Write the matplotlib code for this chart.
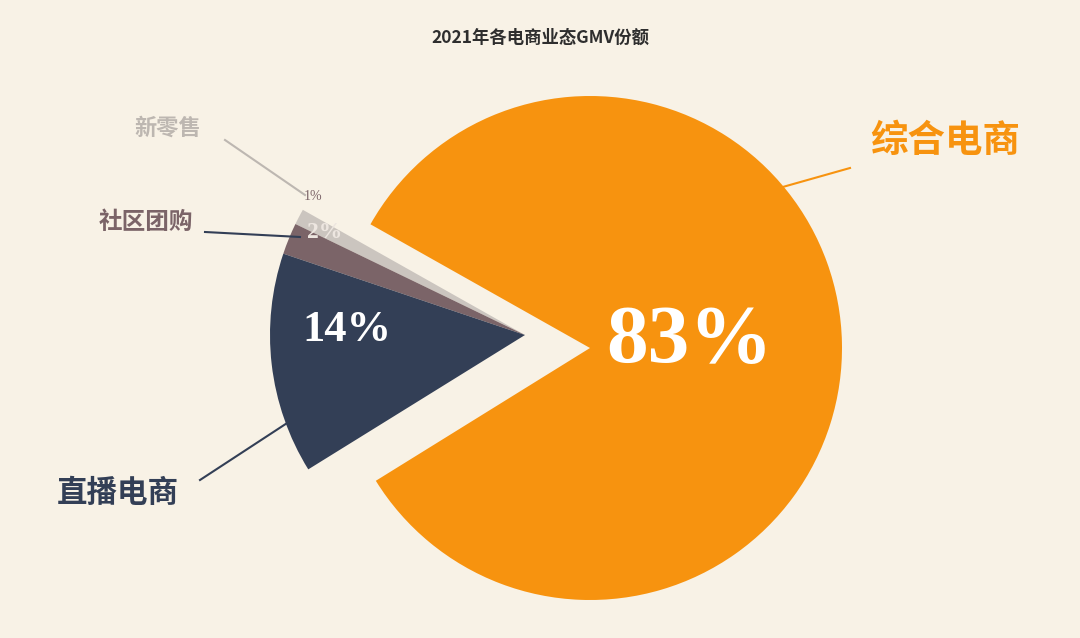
import matplotlib
matplotlib.use("Agg")
import matplotlib.pyplot as plt

plt.rcParams['font.family'] = ['Noto Sans CJK SC', 'DejaVu Sans']

categories = ['新零售', '社区团购', '直播电商', '综合电商']
values = [1, 2, 14, 83]
pct_labels = ['1%', '2%', '14%', '83%']
colors = ['#CBC5BF', '#7B6468', '#333F56', '#F7930F']
bg = '#F8F2E6'

fig = plt.figure(figsize=(10.8, 6.38), dpi=100, facecolor=bg)
ax = fig.add_axes([0, 0, 1, 1])
ax.set_facecolor(bg)
S = 255.0
def P(px, py):
    return ((px - 525) / S, (335 - py) / S)

wedges, _ = ax.pie(values, colors=colors, startangle=150.6, counterclock=True,
                   radius=1.0, wedgeprops=dict(linewidth=0), frame=True)
wedges[3].set_center(P(590, 348))
wedges[3].set_radius(252 / S)
ax.set_xlim(-525 / S, 555 / S)
ax.set_ylim(-303 / S, 335 / S)
ax.set_aspect('auto')
ax.axis('off')

serif = ['Liberation Serif', 'DejaVu Serif']
ax.text(*P(690, 342), pct_labels[3], color='white', fontsize=60, fontweight='bold', family=serif, ha='center', va='center')
ax.text(*P(347, 330), pct_labels[2], color='white', fontsize=32, fontweight='bold', family=serif, ha='center', va='center')
ax.text(*P(325, 233), pct_labels[1], color='#EDE6E0', fontsize=17, fontweight='bold', family=serif, ha='center', va='center')
ax.text(*P(313, 196), pct_labels[0], color='#7B6468', fontsize=10, family=serif, ha='center', va='center')

ax.text(*P(945, 140), categories[3], color='#F7930F', fontsize=27, fontweight='bold', ha='center', va='center')
ax.plot(*zip(P(850, 168), P(765, 192)), color='#F7930F', lw=1.5)
ax.text(*P(118, 493), categories[2], color='#333F56', fontsize=22, fontweight='bold', ha='center', va='center')
ax.plot(*zip(P(200, 480), P(330, 395)), color='#333F56', lw=1.5)
ax.text(*P(146, 222), categories[1], color='#7B6468', fontsize=17, fontweight='bold', ha='center', va='center')
ax.plot(*zip(P(205, 232), P(300, 237)), color='#333F56', lw=1.5)
ax.text(*P(168, 128), categories[0], color='#BDB7B1', fontsize=16, fontweight='bold', ha='center', va='center')
ax.plot(*zip(P(225, 140), P(305, 195)), color='#BDB7B1', lw=1.5)

ax.text(*P(540, 38), '2021年各电商业态GMV份额', color='#2E2E2E', fontsize=12.5, fontweight='bold', ha='center', va='center')

fig.savefig('out.png', dpi=100, facecolor=bg)
